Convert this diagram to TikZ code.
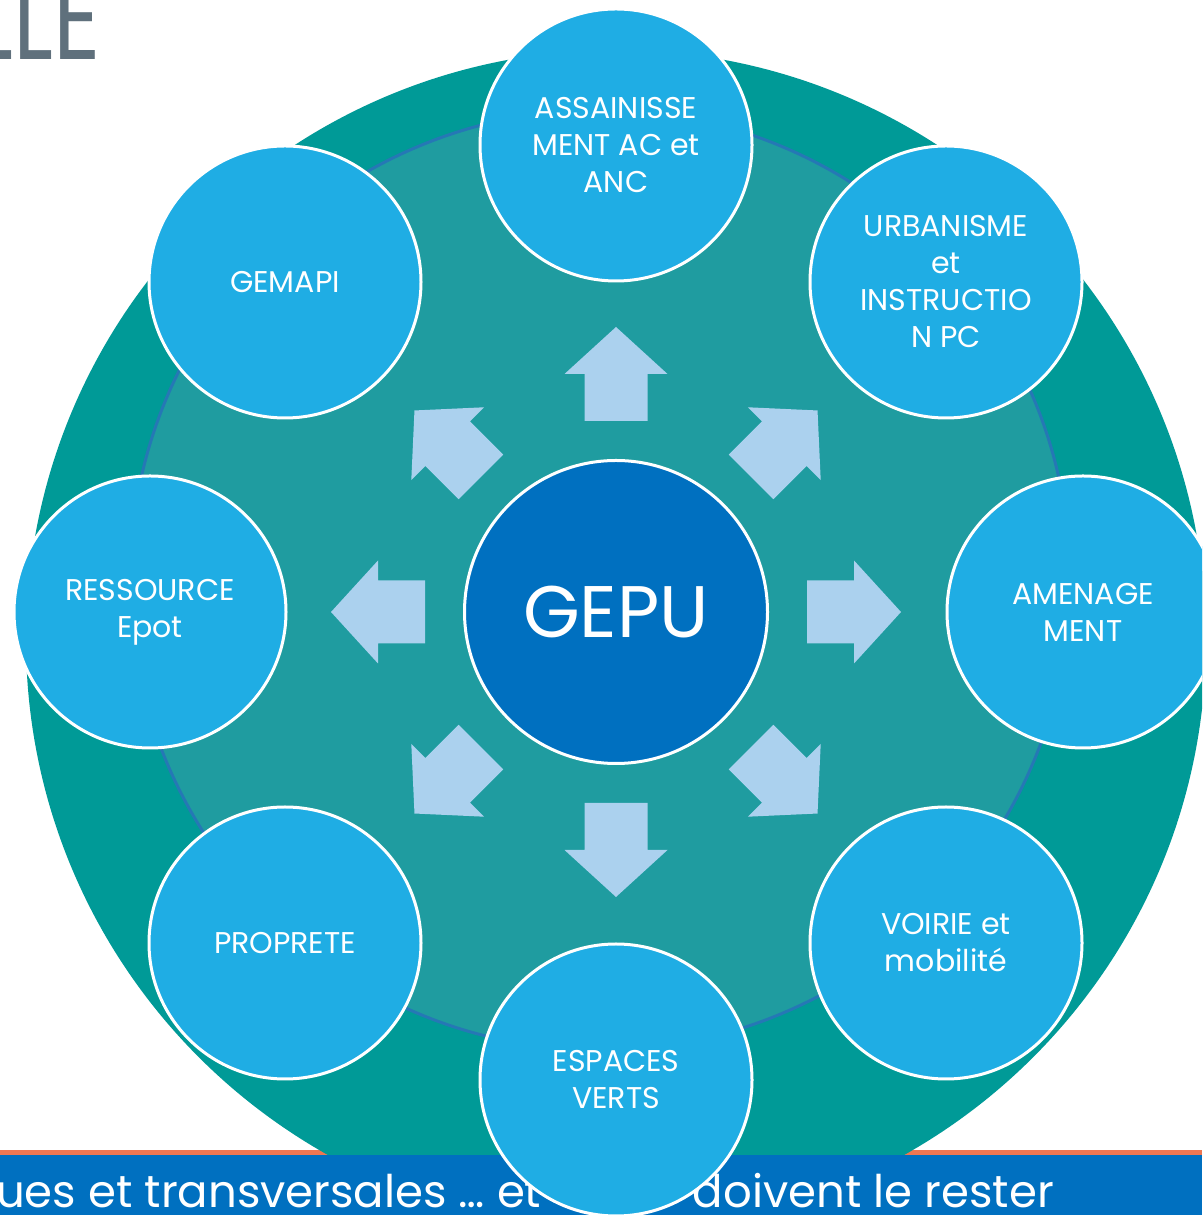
\documentclass[tikz,border=0pt]{standalone}
\usepackage{fontspec}
\setmainfont{Poppins}
\usetikzlibrary{positioning}

\definecolor{tealouter}{HTML}{009A97}
\definecolor{tealinner}{HTML}{1F9CA0}
\definecolor{ringblue}{HTML}{2578B5}
\definecolor{areablue}{HTML}{1FADE4}
\definecolor{gepublue}{HTML}{0070C0}
\definecolor{arrowblue}{HTML}{ABD1EE}
\definecolor{bandorange}{HTML}{EE7752}
\definecolor{titlegray}{HTML}{5F707C}

\tikzset{
    areacircle/.style={circle, draw=white, line width=3pt, fill=areablue,
        minimum size=272pt, inner sep=0pt, align=center, text=white,
        font=\fontsize{30}{37}\selectfont},
    gepucircle/.style={circle, draw=white, line width=3pt, fill=gepublue,
        minimum size=303pt, text=white, font=\fontsize{73}{80}\selectfont},
    bandtext/.style={text=white, inner sep=0pt, font=\fontsize{45}{45}\selectfont}
}

\begin{document}
\begin{tikzpicture}[x=1pt,y=1pt]
            \clip (0,0) rectangle (1202,1215);
            % title left over from the slide
            \node[anchor=base west, inner sep=0pt, text=titlegray,
                font=\fontsize{120}{120}\selectfont] (title) at (-27,1155)
                {\scalebox{0.77}[1]{LLE}};
            % bottom band
            \fill[bandorange] (0,60) rectangle (1202,65);
            \fill[tealouter] (616,575) circle (590);
            \filldraw[fill=tealinner, draw=ringblue, line width=3pt] (600,635) circle (470);
            \fill[gepublue] (0,0) rectangle (1202,60);
            \node[bandtext, anchor=base west] (bandleft) at (-4,8) {ues et transversales … et};
            \node[bandtext, anchor=base east] (bandright) at (1054,8) {doivent le rester};
            % arrows out of the centre
            \coordinate (C) at (616,603);
            \foreach \a in {0,45,...,315}
                \fill[arrowblue, shift={(C)}, rotate=\a]
                    (191,-31.5) -- (238,-31.5) -- (238,-51.5) -- (285,0)
                    -- (238,51.5) -- (238,31.5) -- (191,31.5) -- cycle;
            \node[gepucircle] (gepu) at (C) {GEPU};
            % the eight domains
            \node[areacircle] (assain) at (616,1070) {ASSAINISSE\\MENT AC et\\ANC};
            \node[areacircle] (urba) at (946,933) {URBANISME\\et\\INSTRUCTIO\\N PC};
            \node[areacircle] (amenag) at (1083,603) {AMENAGE\\MENT};
            \node[areacircle] (voirie) at (946,272) {VOIRIE et\\mobilité};
            \node[areacircle] (espaces) at (616,135) {ESPACES\\VERTS};
            \node[areacircle] (proprete) at (285,272) {PROPRETE};
            \node[areacircle] (ressource) at (150,603) {RESSOURCE\\Epot};
            \node[areacircle] (gemapi) at (285,933) {GEMAPI};
        \end{tikzpicture}
\end{document}
